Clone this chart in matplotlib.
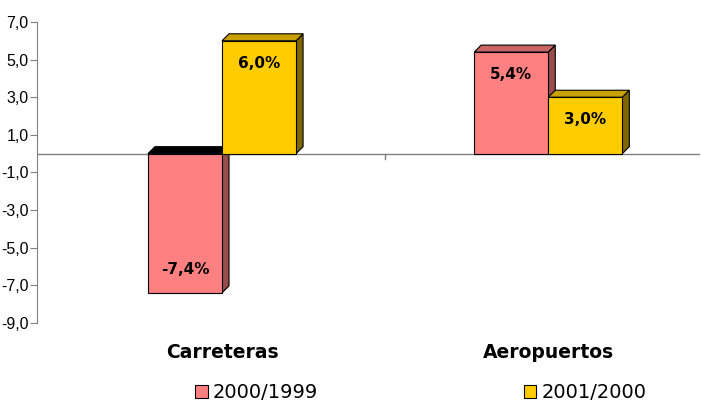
import matplotlib
matplotlib.use('Agg')
import matplotlib.pyplot as plt
from matplotlib.patches import Polygon, Rectangle
from matplotlib.patches import Patch

plt.rcParams['font.family'] = ['DejaVu Sans']

categories = ['Carreteras', 'Aeropuertos']
series = ['2000/1999', '2001/2000']
v1999 = [-7.4, 5.4]
v2000 = [6.0, 3.0]
yticks = [7, 5, 3, 1, -1, -3, -5, -7, -9]

# front, top, side colours for each series
cols = [('#FF8080', '#C86464', '#994C4C'),
        ('#FFCC00', '#C8A000', '#806600')]

fig = plt.figure(figsize=(7.01, 4.05), dpi=100)
ax = fig.add_axes([0.0528, 0.2025, 0.9462, 0.7432])
ax.set_xlim(-0.567, 1.466)
ax.set_ylim(-9, 7)

# depth of the 3d effect, about 7 px each way
dx = 7 * (1.466 + 0.567) / (0.9462 * 701)
dy = 7 * 16 / (0.7432 * 405)
w = 0.227

ax.axhline(0, color='#808080', lw=1, zorder=1)
ax.plot([0.5, 0.5], [0, -0.3], color='#808080', lw=1, zorder=1)

def bar3d(x0, v, c):
    front, top, side = c
    x1 = x0 + w
    h = max(v, 0)
    low = min(v, 0)
    ax.add_patch(Polygon([(x1, low), (x1 + dx, low + dy), (x1 + dx, h + dy), (x1, h)],
                         closed=True, fc=side, ec='black', lw=0.8, zorder=2))
    topc = top if v > 0 else '#000000'
    ax.add_patch(Polygon([(x0, h), (x0 + dx, h + dy), (x1 + dx, h + dy), (x1, h)],
                         closed=True, fc=topc, ec='black', lw=0.8, zorder=2))
    ax.add_patch(Rectangle((x0, low), w, abs(v), fc=front, ec='black', lw=0.8, zorder=3))
    off = -16 if v > 0 else 17
    ax.annotate(('%.1f%%' % v).replace('.', ','), (x0 + w / 2, v), xytext=(0, off),
                textcoords='offset points', ha='center', va='center',
                fontsize=11, fontweight='bold', zorder=4)

for i in range(len(categories)):
    bar3d(i - w, v1999[i], cols[0])
    bar3d(i, v2000[i], cols[1])

for s in ['top', 'right', 'bottom']:
    ax.spines[s].set_visible(False)
ax.spines['left'].set_color('#808080')
ax.set_yticks(yticks)
ax.set_yticklabels([('%.1f' % t).replace('.', ',') for t in yticks],
                   fontsize=11.5, family='Liberation Sans')
ax.tick_params(axis='y', length=5, color='#808080', pad=1)
ax.set_xticks([])

for i, c in enumerate(categories):
    fig.text((ax.transData.transform((i, 0))[0]) / 701, 1 - 352 / 405, c,
             ha='center', va='center', fontsize=13.5, fontweight='bold')

handles = [Patch(fc=cols[0][0], ec='black', lw=0.8), Patch(fc=cols[1][0], ec='black', lw=0.8)]
fig.legend(handles, series, ncol=2, loc='center', bbox_to_anchor=(0.6, 0.03),
           frameon=False, fontsize=14, handlelength=0.65, handleheight=0.65,
           handletextpad=0.25, columnspacing=10.6)

fig.savefig('out.png', dpi=100)
